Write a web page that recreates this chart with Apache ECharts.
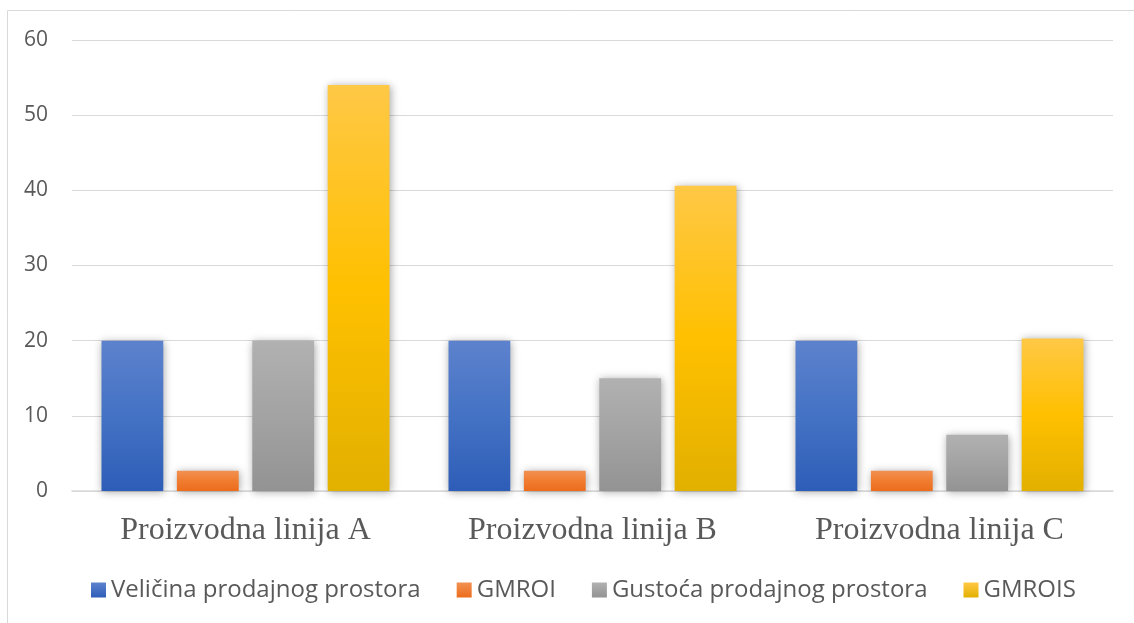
<!DOCTYPE html>
<html><head><meta charset="utf-8">
<script src="https://cdn.jsdelivr.net/npm/echarts@6/dist/echarts.min.js"></script>
<style>html,body{margin:0;padding:0;background:#fff}#c{width:1134px;height:623px}</style>
</head><body><div id="c"></div>
<script>
const categories = ['Proizvodna linija A', 'Proizvodna linija B', 'Proizvodna linija C'];
const seriesNames = ['Veličina prodajnog prostora', 'GMROI', 'Gustoća prodajnog prostora', 'GMROIS'];
const velicina = [20, 20, 20];
const gmroi = [2.7, 2.7, 2.7];
const gustoca = [20, 15, 7.5];
const gmrois = [54, 40.6, 20.3];
const yTicks = [0, 10, 20, 30, 40, 50, 60];

function grad(stops) {
  return new echarts.graphic.LinearGradient(0, 0, 0, 1, stops.map((c, i) => ({offset: i / (stops.length - 1), color: c})));
}
const fills = [
  grad(['#5d82cd', '#4472c4', '#2e5db8']),
  grad(['#f29152', '#f07c30', '#ec6c1c']),
  grad(['#b1b1b1', '#a3a3a3', '#939393']),
  grad(['#ffc846', '#ffc000', '#e2b000'])
];
const legendColors = [
  grad(['#5d82cd', '#2e5db8']),
  grad(['#f29152', '#ec6c1c']),
  grad(['#b1b1b1', '#939393']),
  grad(['#ffc846', '#e2b000'])
];
const dataSets = [velicina, gmroi, gustoca, gmrois];

const chart = echarts.init(document.getElementById('c'), null, {renderer: 'canvas'});
chart.setOption({
  animation: false,
  graphic: [{
    type: 'rect', shape: {x: 7.5, y: 10.5, width: 1200, height: 700},
    style: {fill: 'none', stroke: '#d9d9d9', lineWidth: 1}, silent: true
  }],
  grid: {left: 72, right: 21, top: 40, bottom: 132, containLabel: false},
  legend: {
    top: 573, left: 86, itemWidth: 15, itemHeight: 15, itemGap: 36,
    icon: 'rect',
    textStyle: {fontFamily: 'Open Sans, Liberation Sans, sans-serif', fontSize: 24, color: '#595959'},
    data: seriesNames.map((n, i) => ({name: n, itemStyle: {color: legendColors[i]}}))
  },
  xAxis: {
    type: 'category', data: categories,
    axisLine: {lineStyle: {color: '#d9d9d9', width: 1.5}},
    axisTick: {show: false},
    axisLabel: {fontFamily: 'Liberation Serif, serif', fontSize: 32, color: '#595959', margin: 24}
  },
  yAxis: {
    type: 'value', min: 0, max: 60, interval: 10,
    axisLine: {show: false}, axisTick: {show: false},
    splitLine: {lineStyle: {color: '#d9d9d9', width: 1.2}},
    axisLabel: {fontFamily: 'Open Sans, Liberation Sans, sans-serif', fontSize: 21, color: '#595959', margin: 24,
      formatter: v => yTicks.includes(v) ? String(v) : ''}
  },
  series: seriesNames.map((n, i) => ({
    name: n, type: 'bar', data: dataSets[i],
    barGap: '22%', barCategoryGap: '17%',
    itemStyle: {color: fills[i], shadowColor: 'rgba(0,0,0,0.35)', shadowBlur: 8, shadowOffsetX: 1, shadowOffsetY: 1}
  }))
});
</script></body></html>
